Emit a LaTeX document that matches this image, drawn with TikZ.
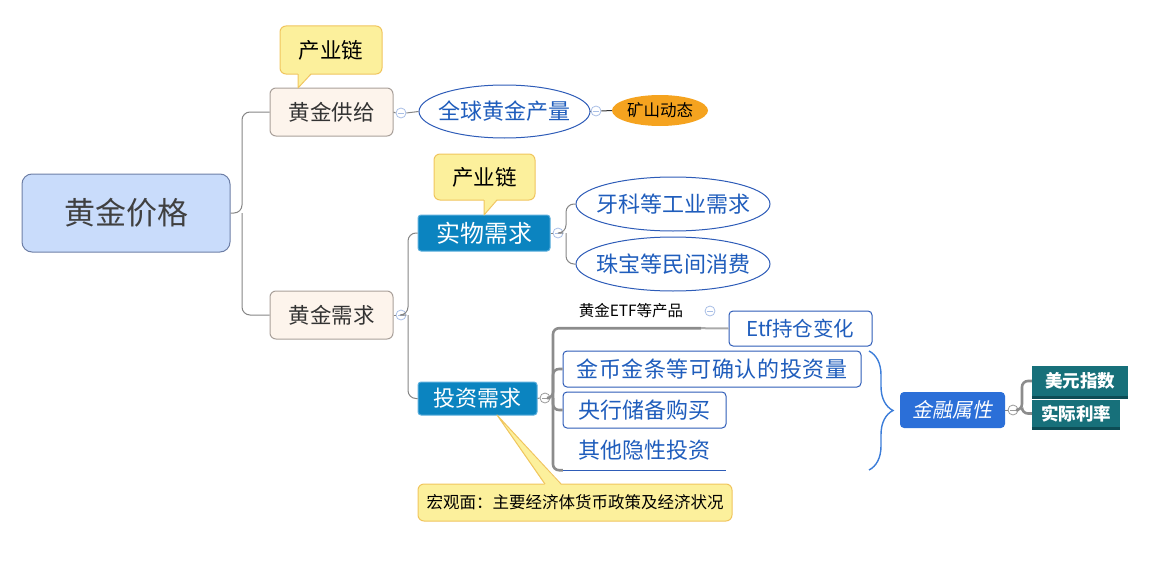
\documentclass[tikz,border=0pt]{standalone}
\usepackage{fontspec}
\setmainfont{Noto Sans CJK SC}
\newfontfamily\slantcjk{Noto Sans CJK SC}[FakeSlant=0.2]
\usepackage{tikz}
\usetikzlibrary{positioning, calc, shapes, decorations.pathreplacing}

\newcommand{\setfs}[1]{\fontsize{#1}{#1}\selectfont}
\newcommand{\ovaltext}[1]{\makebox[0pt]{#1}}

\definecolor{rootfill}{HTML}{C9DCFB}
\definecolor{rootline}{HTML}{6E7FA6}
\definecolor{rootink}{HTML}{404040}
\definecolor{mainfill}{HTML}{FDF4EC}
\definecolor{mainline}{HTML}{A9A09A}
\definecolor{notefill}{HTML}{FCF09C}
\definecolor{noteline}{HTML}{F0C55E}
\definecolor{subfill}{HTML}{0B84C0}
\definecolor{subline}{HTML}{5BAEDC}
\definecolor{leafline}{HTML}{2E5CB8}
\definecolor{leafink}{HTML}{1F5DBC}
\definecolor{minefill}{HTML}{F5A31F}
\definecolor{finfill}{HTML}{2B6FD8}
\definecolor{tealfill}{HTML}{17707A}
\definecolor{tealdark}{HTML}{0D4C55}
\definecolor{linkgray}{HTML}{858585}
\definecolor{trunkgray}{HTML}{8C8C8C}
\definecolor{foldblue}{HTML}{A9BFE6}
\definecolor{foldgray}{HTML}{9A9A9A}
\definecolor{bracecol}{HTML}{3C7DD9}

\tikzset{
  rootbox/.style={draw=rootline, fill=rootfill, line width=1, rounded corners=10,
    inner sep=0, text=rootink, font=\setfs{31}},
  mainbox/.style={draw=mainline, fill=mainfill, line width=1, rounded corners=6,
    inner sep=0, text=black!80, font=\setfs{21.5}},
  note/.style={draw=noteline, fill=notefill, line width=1, rounded corners=6,
    inner sep=0, text=black, font=\setfs{21.5}},
  subbox/.style={draw=subline, fill=subfill, line width=1, rounded corners=3,
    inner sep=0, text=white, font=\setfs{24}},
  leafoval/.style={ellipse, draw=leafline, line width=1, fill=white,
    inner sep=0, text=leafink, font=\setfs{22}},
  leafbox/.style={draw=leafline, line width=1, fill=white, rounded corners=4,
    inner sep=0, text=leafink, font=\setfs{22}},
  minenode/.style={ellipse, fill=minefill, inner sep=0, text=black, font=\setfs{16.5}},
  finbox/.style={fill=finfill, rounded corners=4, inner sep=0, text=white,
    font=\setfs{20}\slantcjk},
  tealbox/.style={fill=tealfill, inner sep=0, text=white, font=\setfs{17.5}\bfseries},
  fold/.style={circle, draw=#1, fill=white, line width=0.8, minimum size=10, inner sep=0,
    path picture={\draw[#1, line width=0.8]
      ([xshift=-3]path picture bounding box.center) --
      ([xshift=3]path picture bounding box.center);}},
  fold/.default=foldblue,
  link/.style={draw=linkgray, line width=1, rounded corners=8},
  trunk/.style={draw=trunkgray, line width=2.6, rounded corners=6},
  noteedge/.style={draw=noteline, line width=1, line join=round}
}

\begin{document}
\begin{tikzpicture}[x=1pt,y=-1pt]
\useasboundingbox (0,0) rectangle (1156,578);

% centre and first level
\node[rootbox, minimum width=208, minimum height=78] (price) at (126,213) {黄金价格};
\node[mainbox, minimum width=123, minimum height=48] (supply) at (331.5,112) {黄金供给};
\node[mainbox, minimum width=123, minimum height=48] (demand) at (331.5,315) {黄金需求};

% supply side
\node[leafoval, minimum width=171, minimum height=53] (output) at (504.5,111.5) {\ovaltext{全球黄金产量}};
\node[minenode, minimum width=96, minimum height=31] (mine) at (660,110.5) {\ovaltext{矿山动态}};

% demand side
\node[subbox, minimum width=132, minimum height=36] (phys) at (484,233) {实物需求};
\node[subbox, minimum width=119, minimum height=33, font=\setfs{22}] (invest) at (477.5,398.5) {投资需求};
\node[leafoval, minimum width=194, minimum height=54] (industry) at (673,204) {\ovaltext{牙科等工业需求}};
\node[leafoval, minimum width=194, minimum height=54] (jewel) at (673,264) {\ovaltext{珠宝等民间消费}};

% investment branches
\node[inner sep=0, minimum width=140, minimum height=34, font=\setfs{15.5}] (etf) at (631,311) {黄金ETF等产品};
\node[leafbox, minimum width=143, minimum height=35, font=\setfs{20.5}] (etfhold) at (800.5,328.5) {Etf持仓变化};
\node[leafbox, minimum width=298, minimum height=36] (coin) at (712,369)
  {\addfontfeature{LetterSpace=3}金币金条等可确认的投资量};
\node[leafbox, minimum width=163, minimum height=36] (bank) at (644.5,410) {央行储备购买};
\node[inner sep=0, minimum width=163, minimum height=40, text=leafink, font=\setfs{22}] (hidden) at (644.5,450) {其他隐性投资};
\draw[leafline, line width=1] (hidden.south west) -- (hidden.south east);

% financial side
\node[finbox, minimum width=105, minimum height=36] (finance) at (952.5,410) {金融属性};
\node[tealbox, minimum width=96, minimum height=30] (usd) at (1080,381) {美元指数};
\node[tealbox, minimum width=88, minimum height=27] (rate) at (1076,413.5) {实际利率};
\draw[tealdark, line width=2.5] ([yshift=-1.25]usd.south west) -- ([yshift=-1.25]usd.south east);
\draw[tealdark, line width=2.5] ([yshift=-1.25]rate.south west) -- ([yshift=-1.25]rate.south east);
\draw[bracecol, line width=1.4, decorate, decoration={brace, amplitude=24}]
  (869,351) -- (869,470);

% fold marks
\node[fold] (f1) at (401,113) {};
\node[fold] (f2) at (401,315) {};
\node[fold] (f3) at (596,111) {};
\node[fold] (f4) at (558,233) {};
\node[fold=foldgray] (f5) at (545,398) {};
\node[fold] (f6) at (710,311) {};
\node[fold=foldgray] (f7) at (1013,410) {};

% connectors
\coordinate (j1) at (242,213);
\draw[link] (price.east) -- (j1) |- (supply.west);
\draw[link] (j1) |- (demand.west);
\draw[link] (supply.east) -- (f1.west);
\draw[link] (f1.east) -- (output.west);
\draw[link, draw=black!80] (output.east) -- (f3.west);
\draw[link, draw=black!80] (f3.east) -- (mine.west);
\coordinate (j2) at (408,315);
\draw[link] (demand.east) -- (f2.west);
\draw[link] (f2.east) -- (j2) |- (phys.west);
\draw[link] (j2) |- (invest.west);
\coordinate (j3) at (566,233);
\draw[link] (phys.east) -- (f4.west);
\draw[link] (f4.east) -- (j3) |- (industry.west);
\draw[link] (j3) |- (jewel.west);
\coordinate (j4) at (553,398);
\draw[link] (invest.east) -- (f5.west);
\draw[trunk] (f5.east) -- (j4) |- (etf.south east);
\draw[trunk] (j4) |- (coin.west);
\draw[trunk] (j4) |- (bank.west);
\draw[trunk] (j4) |- (hidden.south west);
\draw[trunk, line width=2, draw=linkgray!70] (etf.south east) -- (etfhold.west);
\coordinate (j5) at (1022,410);
\draw[link] (finance.east) -- (f7.west);
\draw[trunk] (f7.east) -- (j5) |- (usd.west);
\draw[trunk] (j5) |- (rate.west);

% callouts
\node[note, minimum width=102, minimum height=48] (chain1) at (331,50) {产业链};
\fill[notefill] (298,73) -- (311,73) -- (298,88) -- cycle;
\draw[noteedge] (311,74) -- (298,88) -- (298,74);
\node[note, minimum width=101, minimum height=46] (chain2) at (484.5,177) {产业链};
\fill[notefill] (484,199) -- (497,199) -- (484,215) -- cycle;
\draw[noteedge] (497,200) -- (484,215) -- (484,200);
\node[note, minimum width=314, minimum height=37, font=\setfs{16.5}] (macro) at (575,502.5) {宏观面：主要经济体货币政策及经济状况};
\fill[notefill] (545,485) -- (561,485) -- (497,415) -- cycle;
\draw[noteedge] (545,484) -- (497,415) -- (561,484);
\end{tikzpicture}
\end{document}
